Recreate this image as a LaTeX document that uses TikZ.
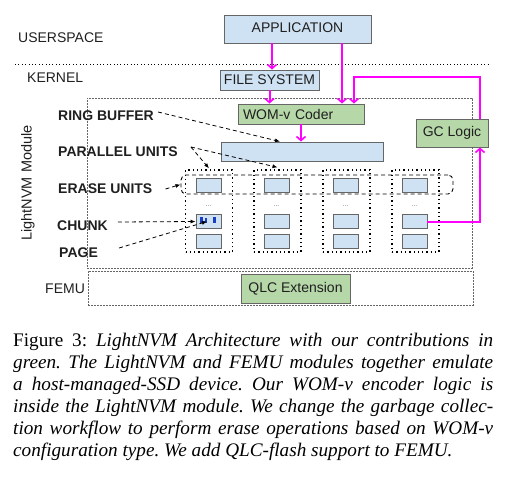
\documentclass[tikz,border=0pt]{standalone}
\usepackage{fontspec}
\setmainfont{Liberation Serif}
\newfontfamily\arial{Liberation Sans}
\usetikzlibrary{arrows.meta}
\definecolor{lblue}{HTML}{CFE2F3}
\definecolor{lgreen}{HTML}{B6D7A8}
\definecolor{bord}{HTML}{666666}
\definecolor{mag}{HTML}{FF00FF}
\definecolor{markblue}{HTML}{1A3FC0}
\begin{document}
\begin{tikzpicture}[x=1pt,y=-1pt,
  every node/.style={font=\arial\fontsize{14}{16}\selectfont, inner sep=0pt, text=black!88},
  bbox/.style={draw=bord, line width=0.9pt, fill=lblue},
  gbox/.style={draw=bord, line width=0.9pt, fill=lgreen},
  cell/.style={bbox, minimum width=25pt, minimum height=14pt},
  colbox/.style={draw=black, line width=1.3pt, dash pattern=on 1.3pt off 3pt, minimum width=47pt, minimum height=82pt},
  modbox/.style={draw=black!60, line width=0.6pt, dash pattern=on 2pt off 1pt},
  magarrow/.style={draw=mag, line width=2pt, -{Straight Barb[length=4pt,width=9pt,line width=1.6pt]}},
  ptr/.style={draw=black, line width=0.8pt, dash pattern=on 4pt off 3pt, -{Latex[length=5pt,width=4pt]}},
  lbl/.style={font=\arial\bfseries\fontsize{14}{16}\selectfont, anchor=west},
  side/.style={anchor=west},
  dots/.style={font=\arial\fontsize{7}{8}\selectfont, text=black!55}
]
\useasboundingbox (0,0) rectangle (514,485);

% separator
\draw[line width=0.8pt, dash pattern=on 0.8pt off 2.6pt] (15,64) -- (489,64);

% side labels
\node[side] (usr) at (18,38) {USERSPACE};
\node[side] (krn) at (27,78) {KERNEL};
\node[side] (femu) at (45,289) {FEMU};
\node[rotate=90, font=\arial\fontsize{14.5}{16}\selectfont] (lmod) at (28,183) {LightNVM Module};

% module boxes
\node[modbox, minimum width=385pt, minimum height=170pt] (lnvm) at (279.5,183) {};
\node[modbox, minimum width=385pt, minimum height=34pt] (femubox) at (280.5,288) {};

% top boxes
\node[bbox, minimum width=147pt, minimum height=28pt] (app) at (297.5,29) {\raisebox{3pt}{APPLICATION}};
\node[bbox, minimum width=99pt, minimum height=20pt] (fs) at (269.5,80) {FILE SYSTEM};
\node[gbox, minimum height=20pt, text width=116pt, inner xsep=5pt, align=left] (wom) at (301,114) {WOM-v Coder};
\node[bbox, minimum width=162pt, minimum height=19pt] (rb) at (302,151.5) {};
\node[gbox, minimum width=72pt, minimum height=28pt] (gc) at (452,133) {GC Logic};
\node[gbox, minimum width=109pt, minimum height=29pt] (qlc) at (295.5,288.5) {QLC Extension};

% columns
\foreach \i/\x in {1/209,2/277.5,3/346.5,4/415.5} {
  \node[colbox] (col\i) at (\x,211) {};
}
\node[draw=black, line width=0.9pt, dash pattern=on 4pt off 3pt, rounded corners=5pt,
      minimum width=272pt, minimum height=19pt] (erase) at (317,184.5) {};
\foreach \i/\x in {1/208.5,2/276.5,3/345.5,4/414.5} {
  \node[cell] (c\i a) at (\x,185) {};
  \node[dots] (d\i) at (\x,206) {...};
  \node[cell] (c\i b) at (\x,221.5) {};
  \node[cell] (c\i c) at (\x,241) {};
}
% chunk marks
\fill[markblue] (199.5,217) rectangle (202.8,223);
\fill[markblue] (205,217.5) rectangle (207.3,223);
\fill[markblue] (199.5,221) rectangle (207.3,223);
\fill[markblue] (213.3,217) rectangle (215.6,223);

% left labels
\node[lbl] (rbl) at (58,116) {RING BUFFER};
\node[lbl] (pul) at (58,152) {PARALLEL UNITS};
\node[lbl] (eul) at (58,189) {ERASE UNITS};
\node[lbl] (chl) at (57,226) {CHUNK};
\node[lbl] (pgl) at (59,253) {PAGE};

% dashed pointers
\draw[ptr] ([xshift=4pt,yshift=4pt]rbl.east) -- ([xshift=-22pt]rb.north);
\draw[ptr] ([xshift=13pt,yshift=5pt]pul.east) -- ([yshift=1pt]col1.north);
\draw[ptr] ([xshift=13pt,yshift=5pt]pul.east) -- ([yshift=2pt]col2.north);
\draw[ptr] ([xshift=13pt]eul.east) -- (erase.west);
\draw[ptr] ([xshift=10pt,yshift=4pt]chl.east) -- (c1b.west);
\draw[ptr] ([xshift=21pt,yshift=5pt]pgl.east) -- ([xshift=-1.5pt]c1b.center);

% magenta arrows
\draw[magarrow] ([xshift=-25.5pt]app.south) -- ([xshift=2.5pt]fs.north);
\draw[magarrow] (fs.south) -- (fs.south |- wom.north);
\draw[magarrow] ([xshift=44.5pt]app.south) -- ([xshift=41pt]wom.north);
\draw[magarrow] ([xshift=28pt]gc.north) -- ++(0,-42) -| ([xshift=53pt]wom.north);
\draw[magarrow] (wom.south) -- (wom.south |- rb.north);
\draw[magarrow] (c4b.east) -| ([xshift=28pt]gc.south);

% caption
\node[anchor=north west, text width=480pt, align=justify, text=black,
      font=\rmfamily\fontsize{19.2}{22}\selectfont\frenchspacing] (cap) at (13,333)
{Figure 3: \itshape LightNVM Architecture with our contributions in\linebreak
green. The LightNVM and FEMU modules together emulate\linebreak
a host-managed-SSD device. Our WOM-v encoder logic is\linebreak
inside the LightNVM module. We change the garbage collec-\linebreak
tion workflow to perform erase operations based on WOM-v\linebreak
configuration type. We add QLC-flash support to FEMU.};
\end{tikzpicture}
\end{document}
